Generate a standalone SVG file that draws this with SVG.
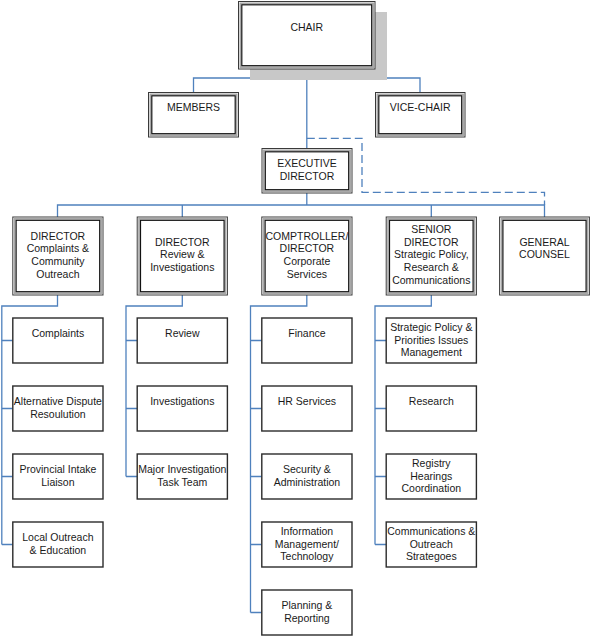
<svg xmlns="http://www.w3.org/2000/svg" width="591" height="636" viewBox="0 0 591 636">
<style>
  text { font-family: "Liberation Sans", Arial, sans-serif; font-size: 10.5px; fill: #1a1a1a; text-anchor: middle; }
  .conn { fill: none; stroke: #4f81bd; stroke-width: 1.3; }
  .dash { fill: none; stroke: #4f81bd; stroke-width: 1.3; stroke-dasharray: 8 4; }
  .o { fill: #fff; stroke: #3a3a3a; stroke-width: 1; }
  .b { fill: none; stroke: #a8a8a8; stroke-width: 1.6; }
  .i { fill: none; stroke: #111; stroke-width: 1.2; }
  .c { fill: #fff; stroke: #2b2b2b; stroke-width: 1.4; }
</style>
<rect width="591" height="636" fill="#fff"/>

<g id="connectors">
  <path class="conn" d="M193.5 92 V78 H420 V92"/>
  <path class="conn" d="M306.8 69 V148"/>
  <path class="dash" d="M306.8 138.3 H362 V192.3 H544.5 V205"/>
  <path class="conn" d="M306.8 193 V205"/>
  <path class="conn" d="M57.5 217 V205 H544.5 V217"/>
  <path class="conn" d="M182.3 205 V217"/>
  <path class="conn" d="M431.3 205 V217"/>
  <!-- column 1 -->
  <path class="conn" d="M57.5 295 V306 H1.8 V544.5"/>
  <path class="conn" d="M1.8 340.5 H12.5 M1.8 408.5 H12.5 M1.8 476.5 H12.5 M1.8 544.5 H12.5"/>
  <!-- column 2 -->
  <path class="conn" d="M182.3 295 V306 H126 V476.5"/>
  <path class="conn" d="M126 340.5 H137 M126 408.5 H137 M126 476.5 H137"/>
  <!-- column 3 -->
  <path class="conn" d="M306.8 295 V306 H250.5 V612.5"/>
  <path class="conn" d="M250.5 340.5 H261.5 M250.5 408.5 H261.5 M250.5 476.5 H261.5 M250.5 544.5 H261.5 M250.5 612.5 H261.5"/>
  <!-- column 4 -->
  <path class="conn" d="M431.3 295 V306 H375 V544.5"/>
  <path class="conn" d="M375 340.5 H386 M375 408.5 H386 M375 476.5 H386 M375 544.5 H386"/>
</g>

<g id="chair">
  <rect x="250" y="12" width="137" height="68" fill="#c8c8c8"/>
  <rect class="o" x="238.5" y="1.5" width="136.5" height="67.5"/>
  <rect class="b" x="240.3" y="3.3" width="132.9" height="63.9"/>
  <rect class="i" x="241.8" y="4.8" width="129.9" height="60.9"/>
  <text x="306.8" y="31">CHAIR</text>
</g>

<g id="members">
  <rect class="o" x="148.5" y="92.5" width="90" height="44.5"/>
  <rect class="b" x="150.3" y="94.3" width="86.4" height="40.9"/>
  <rect class="i" x="151.8" y="95.8" width="83.4" height="37.9"/>
  <text x="193.5" y="111">MEMBERS</text>
</g>

<g id="vice-chair">
  <rect class="o" x="375.5" y="92.5" width="89.5" height="44.5"/>
  <rect class="b" x="377.3" y="94.3" width="85.9" height="40.9"/>
  <rect class="i" x="378.8" y="95.8" width="82.9" height="37.9"/>
  <text x="420.2" y="111">VICE-CHAIR</text>
</g>

<g id="executive-director">
  <rect class="o" x="262" y="148.5" width="90" height="44.5"/>
  <rect class="b" x="263.8" y="150.3" width="86.4" height="40.9"/>
  <rect class="i" x="265.3" y="151.8" width="83.4" height="37.9"/>
  <text x="307" y="167">EXECUTIVE</text>
  <text x="307" y="179.5">DIRECTOR</text>
</g>

<g id="dir-complaints">
  <rect class="o" x="12.8" y="217" width="90.2" height="78"/>
  <rect class="b" x="14.6" y="218.8" width="86.6" height="74.4"/>
  <rect class="i" x="16.1" y="220.3" width="83.6" height="71.4"/>
  <text x="57.9" y="239.5">DIRECTOR</text>
  <text x="57.9" y="252.2">Complaints &amp;</text>
  <text x="57.9" y="264.9">Community</text>
  <text x="57.9" y="277.6">Outreach</text>
</g>

<g id="dir-review">
  <rect class="o" x="137.2" y="217" width="90.2" height="78"/>
  <rect class="b" x="139" y="218.8" width="86.6" height="74.4"/>
  <rect class="i" x="140.5" y="220.3" width="83.6" height="71.4"/>
  <text x="182.3" y="245.5">DIRECTOR</text>
  <text x="182.3" y="258.2">Review &amp;</text>
  <text x="182.3" y="270.9">Investigations</text>
</g>

<g id="comptroller">
  <rect class="o" x="261.8" y="217" width="90.2" height="78"/>
  <rect class="b" x="263.6" y="218.8" width="86.6" height="74.4"/>
  <rect class="i" x="265.1" y="220.3" width="83.6" height="71.4"/>
  <text x="306.9" y="239.5">COMPTROLLER/</text>
  <text x="306.9" y="252.2">DIRECTOR</text>
  <text x="306.9" y="264.9">Corporate</text>
  <text x="306.9" y="277.6">Services</text>
</g>

<g id="senior-director">
  <rect class="o" x="386.2" y="217" width="90.2" height="78"/>
  <rect class="b" x="388" y="218.8" width="86.6" height="74.4"/>
  <rect class="i" x="389.5" y="220.3" width="83.6" height="71.4"/>
  <text x="431.3" y="232.8">SENIOR</text>
  <text x="431.3" y="245.5">DIRECTOR</text>
  <text x="431.3" y="258.2">Strategic Policy,</text>
  <text x="431.3" y="270.9">Research &amp;</text>
  <text x="431.3" y="283.6">Communications</text>
</g>

<g id="general-counsel">
  <rect class="o" x="499.6" y="217" width="89.8" height="78"/>
  <rect class="b" x="501.4" y="218.8" width="86.2" height="74.4"/>
  <rect class="i" x="502.9" y="220.3" width="83.2" height="71.4"/>
  <text x="544.5" y="245.5">GENERAL</text>
  <text x="544.5" y="258.2">COUNSEL</text>
</g>

<!-- column 1 children -->
<g id="complaints">
  <rect class="c" x="12.8" y="318" width="90.2" height="45"/>
  <text x="57.9" y="337">Complaints</text>
</g>
<g id="adr">
  <rect class="c" x="12.8" y="386" width="90.2" height="45"/>
  <text x="57.9" y="405.3">Alternative Dispute</text>
  <text x="57.9" y="417.9">Resoulution</text>
</g>
<g id="provincial-intake">
  <rect class="c" x="12.8" y="454" width="90.2" height="45"/>
  <text x="57.9" y="473.3">Provincial Intake</text>
  <text x="57.9" y="485.9">Liaison</text>
</g>
<g id="local-outreach">
  <rect class="c" x="12.8" y="522" width="90.2" height="45"/>
  <text x="57.9" y="541.3">Local Outreach</text>
  <text x="57.9" y="553.9">&amp; Education</text>
</g>

<!-- column 2 children -->
<g id="review">
  <rect class="c" x="137.2" y="318" width="90.2" height="45"/>
  <text x="182.3" y="337">Review</text>
</g>
<g id="investigations">
  <rect class="c" x="137.2" y="386" width="90.2" height="45"/>
  <text x="182.3" y="405">Investigations</text>
</g>
<g id="major-investigation">
  <rect class="c" x="137.2" y="454" width="90.2" height="45"/>
  <text x="182.3" y="473.3">Major Investigation</text>
  <text x="182.3" y="485.9">Task Team</text>
</g>

<!-- column 3 children -->
<g id="finance">
  <rect class="c" x="261.8" y="318" width="90.2" height="45"/>
  <text x="306.9" y="337">Finance</text>
</g>
<g id="hr-services">
  <rect class="c" x="261.8" y="386" width="90.2" height="45"/>
  <text x="306.9" y="405">HR Services</text>
</g>
<g id="security-admin">
  <rect class="c" x="261.8" y="454" width="90.2" height="45"/>
  <text x="306.9" y="473.3">Security &amp;</text>
  <text x="306.9" y="485.9">Administration</text>
</g>
<g id="info-management">
  <rect class="c" x="261.8" y="522" width="90.2" height="45"/>
  <text x="306.9" y="535.1">Information</text>
  <text x="306.9" y="547.7">Management/</text>
  <text x="306.9" y="560.3">Technology</text>
</g>
<g id="planning-reporting">
  <rect class="c" x="261.8" y="590" width="90.2" height="45"/>
  <text x="306.9" y="609.3">Planning &amp;</text>
  <text x="306.9" y="621.9">Reporting</text>
</g>

<!-- column 4 children -->
<g id="strategic-policy">
  <rect class="c" x="386.2" y="318" width="90.2" height="45"/>
  <text x="431.3" y="331.1">Strategic Policy &amp;</text>
  <text x="431.3" y="343.7">Priorities Issues</text>
  <text x="431.3" y="356.3">Management</text>
</g>
<g id="research">
  <rect class="c" x="386.2" y="386" width="90.2" height="45"/>
  <text x="431.3" y="405">Research</text>
</g>
<g id="registry">
  <rect class="c" x="386.2" y="454" width="90.2" height="45"/>
  <text x="431.3" y="467.1">Registry</text>
  <text x="431.3" y="479.7">Hearings</text>
  <text x="431.3" y="492.3">Coordination</text>
</g>
<g id="communications">
  <rect class="c" x="386.2" y="522" width="90.2" height="45"/>
  <text x="431.3" y="535.1">Communications &amp;</text>
  <text x="431.3" y="547.7">Outreach</text>
  <text x="431.3" y="560.3">Strategoes</text>
</g>
</svg>
